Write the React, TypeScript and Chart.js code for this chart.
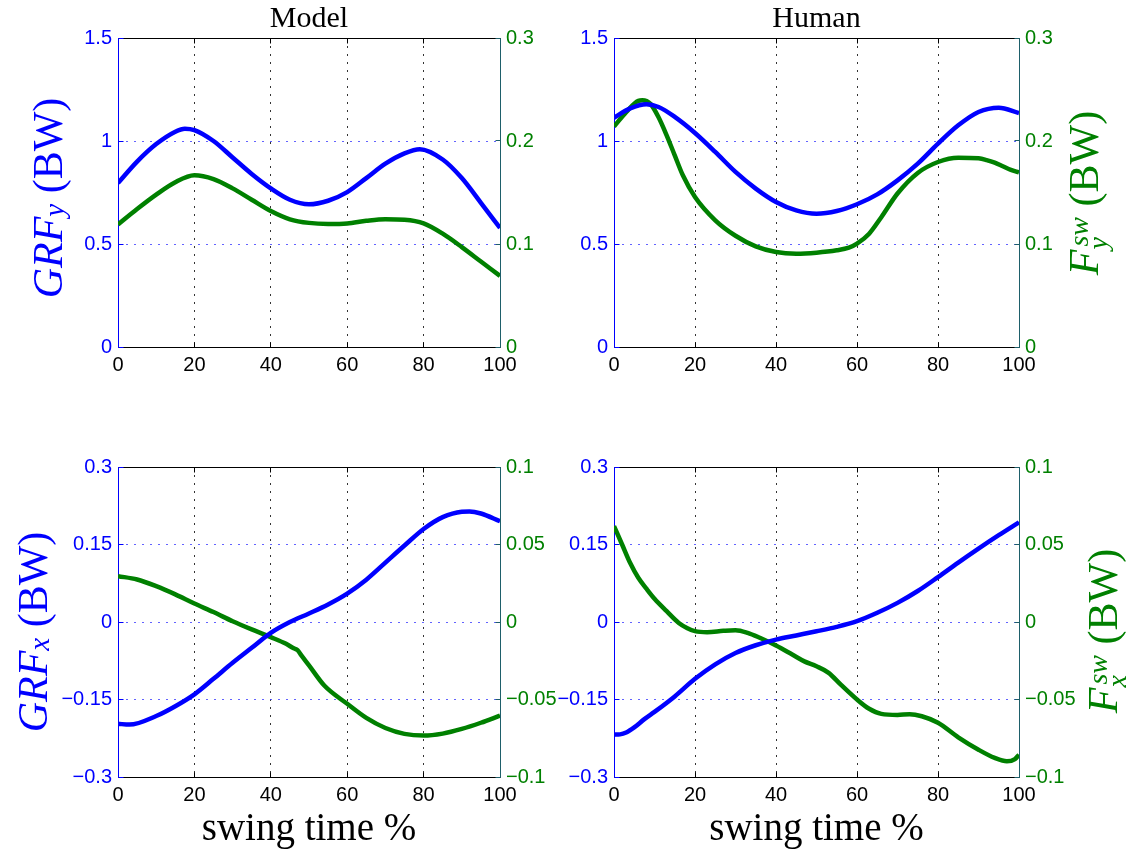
import React, { useEffect, useRef } from 'react';
import { Chart, registerables } from 'chart.js';

Chart.register(...registerables);

const BLUE = '#0000ff';
const GREEN = '#008000';
const AXIS2 = '#1e5f6a';
const TICK_FONT = { family: '"Liberation Sans", Arial, sans-serif', size: 20 };
const SERIF = '"Liberation Serif", "Times New Roman", serif';

// ---- tick labels ----
const xTicks = [0, 20, 40, 60, 80, 100];
const grfyTicks = [0, 0.5, 1, 1.5];
const fswyTicks = [0, 0.1, 0.2, 0.3];
const grfxTicks = [-0.3, -0.15, 0, 0.15, 0.3];
const fswxTicks = [-0.1, -0.05, 0, 0.05, 0.1];

const panelTitles = ['Model', 'Human'];
const xAxisTitle = 'swing time %';

// ---- Model, vertical (top-left) ----
const modelGrfyPct = [0, 5, 10, 15, 17.5, 20, 25, 30, 35, 40, 45, 50, 55, 60, 65, 70, 75, 79, 85, 90, 95, 100];
const modelGrfy = [0.796, 0.9, 0.985, 1.045, 1.06, 1.053, 1.0, 0.92, 0.84, 0.77, 0.715, 0.693, 0.71, 0.752, 0.82, 0.89, 0.94, 0.96, 0.91, 0.82, 0.7, 0.578];
const modelFswyPct = [0, 5, 10, 15, 20, 25, 30, 35, 40, 45, 50, 55, 60, 65, 70, 75, 80, 85, 90, 95, 100];
const modelFswy = [0.119, 0.134, 0.148, 0.16, 0.1667, 0.163, 0.154, 0.143, 0.132, 0.124, 0.1205, 0.1195, 0.12, 0.1225, 0.124, 0.1235, 0.12, 0.11, 0.097, 0.083, 0.069];

// ---- Human, vertical (top-right) ----
const humanGrfyPct = [0, 4, 8, 11, 15, 20, 25, 30, 35, 40, 45, 50, 55, 60, 65, 70, 75, 80, 85, 90, 95, 100];
const humanGrfy = [1.113, 1.158, 1.178, 1.165, 1.117, 1.039, 0.947, 0.85, 0.769, 0.704, 0.663, 0.647, 0.66, 0.693, 0.741, 0.809, 0.89, 0.987, 1.076, 1.141, 1.162, 1.136];
const humanFswyPct = [0, 3, 6, 7, 9, 11, 13, 15, 17, 20, 25, 30, 35, 40, 45, 50, 55, 58, 60, 63, 66, 70, 75, 80, 85, 90, 92, 94, 96, 98, 100];
const humanFswy = [0.214, 0.228, 0.239, 0.2395, 0.236, 0.223, 0.2055, 0.186, 0.1667, 0.1456, 0.123, 0.108, 0.0977, 0.0922, 0.0906, 0.0916, 0.0939, 0.0964, 0.1003, 0.11, 0.126, 0.149, 0.169, 0.1796, 0.1838, 0.1832, 0.1815, 0.179, 0.1755, 0.172, 0.1695];

// ---- Model, horizontal (bottom-left) ----
const modelGrfxPct = [0, 3, 10, 15, 20, 25, 30, 35, 40, 45, 50, 55, 60, 65, 70, 75, 80, 85, 90, 92, 95, 100];
const modelGrfx = [-0.197, -0.1986, -0.182, -0.163, -0.14, -0.11, -0.079, -0.05, -0.021, 0.0, 0.0165, 0.034, 0.055, 0.082, 0.115, 0.148, 0.18, 0.203, 0.2135, 0.214, 0.21, 0.195];
const modelFswxPct = [0, 5, 10, 15, 20, 25, 30, 35, 40, 44, 46, 47, 48, 50, 54, 60, 65, 70, 75, 80, 85, 90, 95, 100];
const modelFswx = [0.0296, 0.0274, 0.0231, 0.0178, 0.0119, 0.0064, 0.0005, -0.0048, -0.0098, -0.0141, -0.017, -0.0182, -0.0215, -0.028, -0.041, -0.0528, -0.0619, -0.0684, -0.0722, -0.0733, -0.072, -0.069, -0.065, -0.0604];

// ---- Human, horizontal (bottom-right) ----
const humanGrfxPct = [0, 1.5, 3, 5, 7.5, 10, 15, 20, 25, 30, 35, 40, 45, 50, 55, 60, 65, 70, 75, 80, 85, 90, 95, 100];
const humanGrfx = [-0.218, -0.2175, -0.214, -0.204, -0.188, -0.174, -0.144, -0.11, -0.082, -0.06, -0.045, -0.034, -0.026, -0.018, -0.0094, 0.0016, 0.0178, 0.037, 0.06, 0.087, 0.115, 0.142, 0.168, 0.193];
const humanFswxPct = [0, 2, 4, 6, 8, 10, 13, 16, 18, 20, 23, 27, 30, 33, 36, 40, 44, 47, 50, 53, 56, 60, 63, 66, 70, 73, 76, 80, 85, 90, 94, 97, 99, 100];
const humanFswx = [0.0619, 0.05, 0.038, 0.0285, 0.0215, 0.015, 0.007, -0.0006, -0.0038, -0.0059, -0.0066, -0.0057, -0.0053, -0.007, -0.0102, -0.0152, -0.021, -0.0254, -0.0286, -0.0328, -0.0404, -0.05, -0.056, -0.0593, -0.06, -0.0595, -0.0608, -0.065, -0.0744, -0.0824, -0.0877, -0.0899, -0.0884, -0.0856];

type Panel = {
  left: number; top: number; width: number; height: number;
  leftW: number; rightW: number; topPad: number; bottomH: number;
  yTicks: number[]; y2Ticks: number[];
  s1x: number[]; s1y: number[]; s2x: number[]; s2y: number[];
};

const fmt = (v: number) => {
  const r = Math.round(v * 1000) / 1000;
  return String(r).replace('-', '\u2212');
};

const align = (v: number) => Math.round(v - 0.5) + 0.5;

const framePlugin = {
  id: 'frame',
  beforeDatasetsDraw(chart: any) {
    const { ctx, chartArea: a } = chart;
    const L = align(a.left), R = align(a.right), T = align(a.top), B = align(a.bottom);
    ctx.save();
    ctx.lineWidth = 1;
    ctx.setLineDash([]);
    const line = (x1: number, y1: number, x2: number, y2: number, c: string) => {
      ctx.strokeStyle = c;
      ctx.beginPath();
      ctx.moveTo(x1, y1);
      ctx.lineTo(x2, y2);
      ctx.stroke();
    };
    const xs = chart.scales.x, ys = chart.scales.y, y2 = chart.scales.y2;
    const tl = 5;
    line(L, T, R, T, '#000');
    line(L, B, R, B, '#000');
    xs.ticks.forEach((t: any) => {
      const px = align(xs.getPixelForValue(t.value));
      line(px, B, px, B - tl, '#000');
      line(px, T, px, T + tl, '#000');
    });
    ys.ticks.forEach((t: any) => {
      const py = align(ys.getPixelForValue(t.value));
      line(L, py, L + tl, py, BLUE);
    });
    y2.ticks.forEach((t: any) => {
      const py = align(y2.getPixelForValue(t.value));
      line(R, py, R - tl, py, AXIS2);
    });
    line(L, T, L, B, BLUE);
    line(R, T, R, B, AXIS2);
    ctx.restore();
  },
};

const edge = (ctx: any, n: number) => ctx.index === 0 || ctx.index === n - 1;

function PanelChart({ p }: { p: Panel }) {
  const ref = useRef<HTMLCanvasElement>(null);
  useEffect(() => {
    const chart = new Chart(ref.current as HTMLCanvasElement, {
      type: 'line',
      data: {
        datasets: [
          {
            label: 'GRF',
            data: p.s1x.map((x, i) => ({ x, y: p.s1y[i] })),
            yAxisID: 'y',
            borderColor: BLUE,
            borderWidth: 4.5,
            pointRadius: 0,
            cubicInterpolationMode: 'monotone',
            fill: false,
          },
          {
            label: 'Fsw',
            data: p.s2x.map((x, i) => ({ x, y: p.s2y[i] })),
            yAxisID: 'y2',
            borderColor: GREEN,
            borderWidth: 4.5,
            pointRadius: 0,
            cubicInterpolationMode: 'monotone',
            fill: false,
          },
        ],
      },
      options: {
        animation: false,
        responsive: false,
        devicePixelRatio: 1,
        events: [],
        layout: { padding: { top: p.topPad, left: 0, right: 0, bottom: 0 } },
        plugins: { legend: { display: false }, tooltip: { enabled: false }, title: { display: false } },
        scales: {
          x: {
            type: 'linear',
            position: 'bottom',
            min: 0,
            max: 100,
            afterBuildTicks: (s: any) => { s.ticks = xTicks.map((value) => ({ value })); },
            afterFit: (s: any) => { s.height = p.bottomH; },
            ticks: { color: '#000', font: TICK_FONT, padding: 6, maxRotation: 0, autoSkip: false, callback: (v: any) => fmt(v) },
            grid: { color: (c: any) => (edge(c, xTicks.length) ? 'rgba(0,0,0,0)' : '#333'), lineWidth: 1, drawTicks: false },
            border: { display: false, dash: [2, 6] },
          },
          y: {
            type: 'linear',
            position: 'left',
            min: p.yTicks[0],
            max: p.yTicks[p.yTicks.length - 1],
            afterBuildTicks: (s: any) => { s.ticks = p.yTicks.map((value) => ({ value })); },
            afterFit: (s: any) => { s.width = p.leftW; },
            ticks: { color: BLUE, font: TICK_FONT, padding: 6, autoSkip: false, callback: (v: any) => fmt(v) },
            grid: { color: (c: any) => (edge(c, p.yTicks.length) ? 'rgba(0,0,0,0)' : 'rgba(60,60,255,0.8)'), lineWidth: 1, drawTicks: false },
            border: { display: false, dash: [2, 6] },
          },
          y2: {
            type: 'linear',
            position: 'right',
            min: p.y2Ticks[0],
            max: p.y2Ticks[p.y2Ticks.length - 1],
            afterBuildTicks: (s: any) => { s.ticks = p.y2Ticks.map((value) => ({ value })); },
            afterFit: (s: any) => { s.width = p.rightW; },
            ticks: { color: GREEN, font: TICK_FONT, padding: 6, autoSkip: false, callback: (v: any) => fmt(v) },
            grid: { drawOnChartArea: false, drawTicks: false },
            border: { display: false },
          },
        },
      } as any,
      plugins: [framePlugin],
    });
    return () => chart.destroy();
  }, []);
  return (
    <canvas
      ref={ref}
      width={p.width}
      height={p.height}
      style={{ position: 'absolute', left: p.left, top: p.top, width: p.width, height: p.height }}
    />
  );
}

const LABEL_SIZE = 42;

function YLabel({ cx, cy, color, children }: { cx: number; cy: number; color: string; children: any }) {
  return (
    <div
      style={{
        position: 'absolute',
        left: cx - 170,
        top: cy - LABEL_SIZE / 2,
        width: 340,
        height: LABEL_SIZE,
        lineHeight: `${LABEL_SIZE}px`,
        fontSize: LABEL_SIZE,
        fontFamily: SERIF,
        color,
        textAlign: 'center',
        whiteSpace: 'nowrap',
        transform: 'rotate(-90deg)',
        transformOrigin: 'center center',
      }}
    >
      {children}
    </div>
  );
}

function SupSub({ sup, sub }: { sup: string; sub: string }) {
  return (
    <span style={{ position: 'relative', display: 'inline-block', top: -10, fontSize: 28, lineHeight: '28px', fontStyle: 'italic', marginLeft: 3 }}>
      {sup}
      <span style={{ position: 'absolute', left: -3, top: 19 }}>{sub}</span>
    </span>
  );
}

const subStyle = { fontSize: 29, fontStyle: 'italic' as const, position: 'relative' as const, top: 2 };

function Text({ x, y, size, children }: { x: number; y: number; size: number; children: any }) {
  return (
    <div
      style={{
        position: 'absolute',
        left: x - 200,
        top: y,
        width: 400,
        textAlign: 'center',
        fontFamily: SERIF,
        fontSize: size,
        lineHeight: `${size}px`,
        color: '#000',
        whiteSpace: 'nowrap',
      }}
    >
      {children}
    </div>
  );
}

const panels: Panel[] = [
  { left: 0, top: 0, width: 580, height: 400, leftW: 118, rightW: 80, topPad: 38, bottomH: 53, yTicks: grfyTicks, y2Ticks: fswyTicks, s1x: modelGrfyPct, s1y: modelGrfy, s2x: modelFswyPct, s2y: modelFswy },
  { left: 496, top: 0, width: 637, height: 400, leftW: 118, rightW: 114, topPad: 38, bottomH: 53, yTicks: grfyTicks, y2Ticks: fswyTicks, s1x: humanGrfyPct, s1y: humanGrfy, s2x: humanFswyPct, s2y: humanFswy },
  { left: 0, top: 430, width: 580, height: 422, leftW: 118, rightW: 80, topPad: 37, bottomH: 75, yTicks: grfxTicks, y2Ticks: fswxTicks, s1x: modelGrfxPct, s1y: modelGrfx, s2x: modelFswxPct, s2y: modelFswx },
  { left: 496, top: 430, width: 637, height: 422, leftW: 118, rightW: 114, topPad: 37, bottomH: 75, yTicks: grfxTicks, y2Ticks: fswxTicks, s1x: humanGrfxPct, s1y: humanGrfx, s2x: humanFswxPct, s2y: humanFswx },
];

export default function App() {
  return (
    <div style={{ position: 'absolute', left: 0, top: 0, width: 1133, height: 852, background: '#fff', overflow: 'hidden' }}>
      {panels.map((p, i) => (
        <PanelChart key={i} p={p} />
      ))}
      <Text x={309} y={2} size={30}>{panelTitles[0]}</Text>
      <Text x={816.5} y={2} size={30}>{panelTitles[1]}</Text>
      <Text x={309} y={807} size={39}>{xAxisTitle}</Text>
      <Text x={816.5} y={807} size={39}>{xAxisTitle}</Text>
      <YLabel cx={48} cy={198} color={BLUE}>
        <i>GRF</i><span style={subStyle}>y</span> (BW)
      </YLabel>
      <YLabel cx={1084} cy={193} color={GREEN}>
        <i>F</i><SupSub sup="sw" sub="y" /> (BW)
      </YLabel>
      <YLabel cx={33} cy={632} color={BLUE}>
        <i>GRF</i><span style={subStyle}>x</span> (BW)
      </YLabel>
      <YLabel cx={1103} cy={631} color={GREEN}>
        <i>F</i><SupSub sup="sw" sub="x" /> (BW)
      </YLabel>
    </div>
  );
}
